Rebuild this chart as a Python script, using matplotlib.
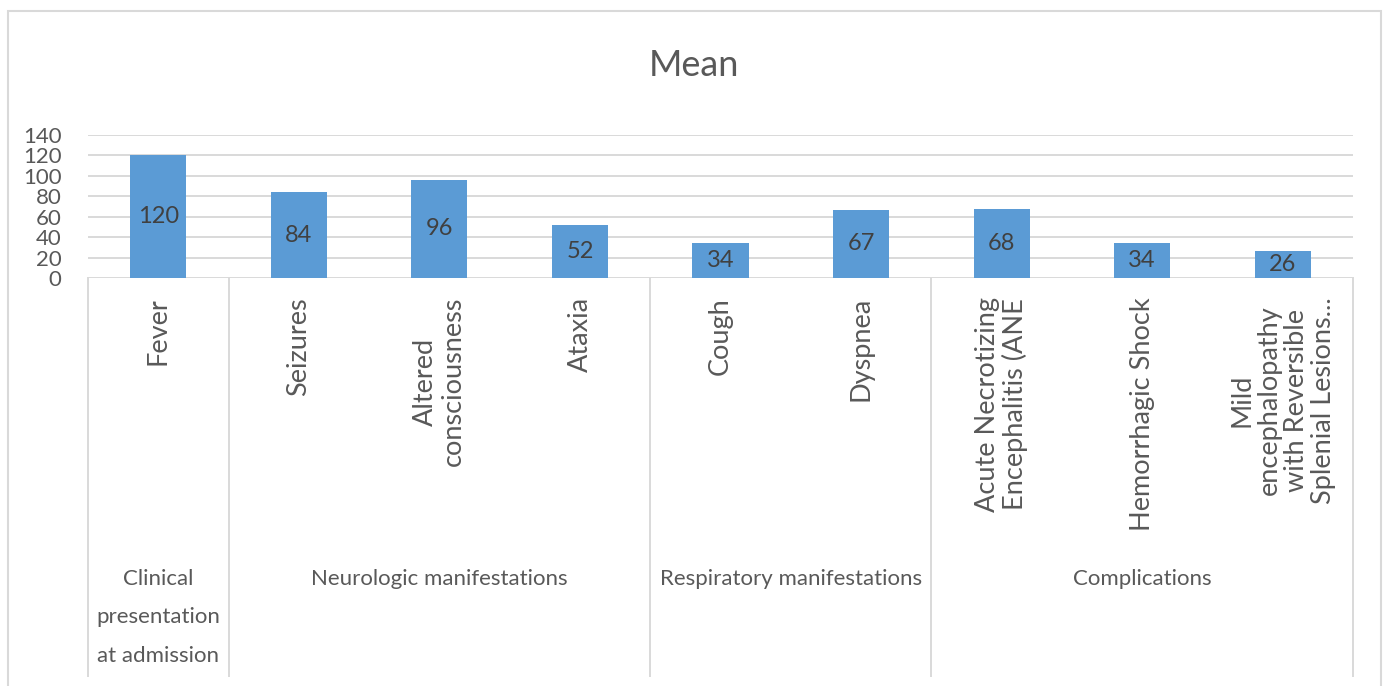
import matplotlib.pyplot as plt
from matplotlib.patches import Rectangle

plt.rcParams['font.family'] = ['Lato', 'DejaVu Sans']

labels = ["Fever", "Seizures", "Altered\nconsciousness", "Ataxia", "Cough",
          "Dyspnea", "Acute Necrotizing\nEncephalitis (ANE", "Hemorrhagic Shock",
          "Mild\nencephalopathy\nwith Reversible\nSplenial Lesions..."]
means = [120, 84, 96, 52, 34, 67, 68, 34, 26]
groups = ["Clinical\npresentation\nat admission", "Neurologic manifestations",
          "Respiratory manifestations", "Complications"]
group_sizes = [1, 3, 2, 3]
yticks = [0, 20, 40, 60, 80, 100, 120, 140]

W, H = 1387, 686
bar_color = '#5B9BD5'
line_color = '#D9D9D9'
text_color = '#595959'

fig = plt.figure(figsize=(W / 100, H / 100), dpi=100)

# chart frame
fig.patches.append(Rectangle((8 / W, -0.1), (1381 - 8) / W, 1.1 - 11 / H,
                             transform=fig.transFigure, fill=False,
                             edgecolor=line_color, lw=1.5))

# plot area in pixels
x0, x1, y_top, y_bot = 88, 1353, 135, 278
ax = fig.add_axes([x0 / W, 1 - y_bot / H, (x1 - x0) / W, (y_bot - y_top) / H])


def ax_y(px):  # pixel row -> axes fraction
    return (y_bot - px) / (y_bot - y_top)


xs = range(len(means))
bars = ax.bar(xs, means, width=0.4, color=bar_color, zorder=2)
for b, v in zip(bars, means):
    ax.text(b.get_x() + b.get_width() / 2, v / 2, str(v), ha='center',
            va='center', fontsize=17, color='#404040', zorder=3)

ax.set_xlim(-0.5, len(means) - 0.5)
ax.set_ylim(0, 140)
ax.set_yticks(yticks)
ax.set_yticklabels([str(t) for t in yticks], fontsize=16, color=text_color)
ax.tick_params(axis='y', length=0, pad=19)
ax.set_xticks([])
for s in ax.spines.values():
    s.set_visible(False)
ax.grid(axis='y', color=line_color, lw=1.4, zorder=0)
ax.set_axisbelow(True)

# category labels, rotated
tr = ax.get_xaxis_transform()
for i, lab in enumerate(labels):
    ax.text(i, ax_y(297), lab, rotation=90, ha='center', va='top',
            multialignment='center', fontsize=19.5, color=text_color,
            transform=tr, linespacing=1.1)

# group separators and group labels
bottom = ax_y(676)
edges = [-0.5]
for n in group_sizes:
    edges.append(edges[-1] + n)
for e in edges:
    ax.plot([e, e], [0, bottom], color=line_color, lw=1.4,
            transform=tr, clip_on=False)
for g, a, b in zip(groups, edges[:-1], edges[1:]):
    ax.text((a + b) / 2, ax_y(569), g, ha='center', va='top',
            multialignment='center', fontsize=16, color=text_color,
            transform=tr, linespacing=2.15)

fig.text(694 / W, 1 - 66 / H, "Mean", ha='center', va='center',
         fontsize=26, color=text_color)

fig.savefig('out.png', dpi=100)
